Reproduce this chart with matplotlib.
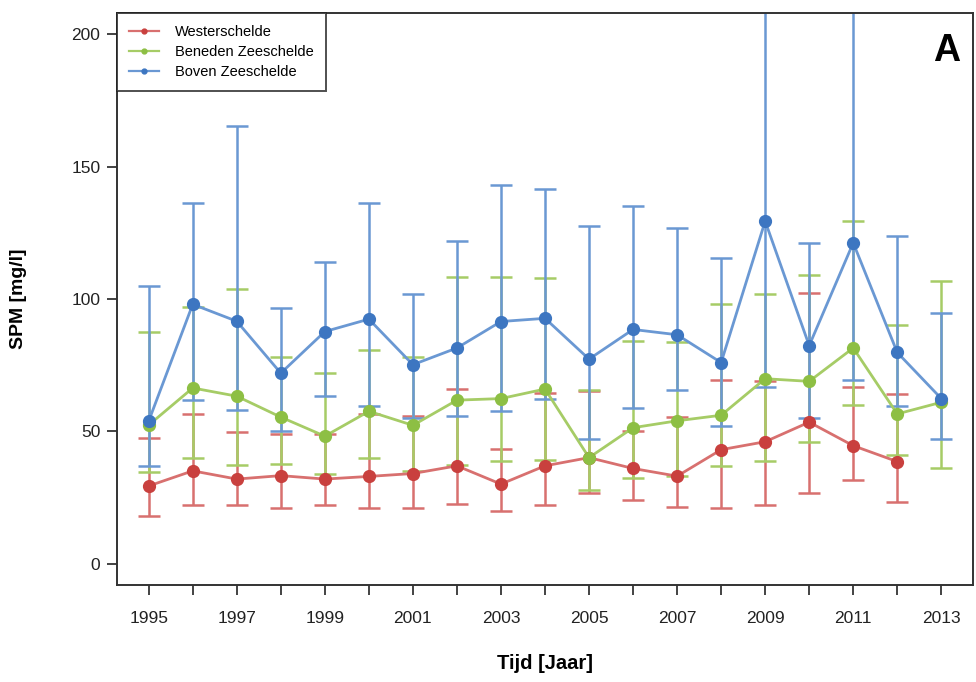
import matplotlib
matplotlib.use("Agg")
import matplotlib.pyplot as plt
import numpy as np

years = list(range(1995, 2014))

# Westerschelde (no value in 2013)
west_years = list(range(1995, 2013))
west_mean = [29.4, 35.1, 32.0, 33.3, 32.0, 33.0, 34.1, 37.0, 30.1, 37.0, 40.1, 36.0, 33.1, 43.1, 46.1, 53.5, 44.6, 38.6]
west_low  = [17.9, 22.2, 22.2, 21.1, 22.2, 21.1, 21.1, 22.6, 20.0, 22.2, 26.7, 24.2, 21.4, 21.1, 22.2, 26.7, 31.6, 23.2]
west_high = [47.5, 56.4, 49.9, 49.1, 48.9, 56.4, 56.0, 66.0, 43.2, 64.5, 65.3, 50.1, 55.5, 69.5, 68.9, 102.4, 66.7, 64.0]

# Beneden Zeeschelde
bz_mean = [52.4, 66.4, 63.3, 55.4, 48.2, 57.6, 52.3, 61.8, 62.4, 66.0, 40.1, 51.4, 54.0, 56.1, 69.9, 68.9, 81.5, 56.6, 61.0]
bz_low  = [34.5, 40.1, 37.2, 37.8, 33.8, 39.8, 35.1, 37.5, 38.8, 39.2, 27.9, 32.3, 33.0, 37.0, 39.0, 46.1, 59.9, 41.2, 36.0]
bz_high = [87.6, 97.1, 103.6, 78.0, 72.0, 80.8, 78.0, 108.4, 108.4, 107.8, 65.5, 84.0, 83.6, 98.0, 101.8, 108.9, 129.3, 90.2, 106.8]

# Boven Zeeschelde
bo_mean = [53.9, 98.0, 91.6, 72.0, 87.7, 92.4, 75.2, 81.5, 91.5, 92.7, 77.3, 88.5, 86.5, 76.0, 129.4, 82.4, 121.2, 79.8, 62.4]
bo_low  = [37.0, 61.8, 57.9, 50.1, 63.2, 59.5, 55.1, 55.8, 57.6, 62.3, 47.0, 58.9, 65.7, 52.0, 66.7, 55.0, 69.4, 59.5, 47.2]
bo_high = [105.0, 136.2, 165.5, 96.7, 114.0, 136.2, 101.8, 122.0, 142.9, 141.5, 127.7, 135.2, 127.0, 115.4, 260.0, 121.0, 250.0, 123.8, 94.6]

series = [
    ("Westerschelde", west_years, west_mean, west_low, west_high, "#c9403e", "#d8706f"),
    ("Beneden Zeeschelde", years, bz_mean, bz_low, bz_high, "#8dbf44", "#a6cc66"),
    ("Boven Zeeschelde", years, bo_mean, bo_low, bo_high, "#3d76c1", "#6a98d3"),
]

plt.rcParams['font.family'] = ['Liberation Sans', 'DejaVu Sans']

fig = plt.figure(figsize=(9.76, 6.82), dpi=100)
ax = fig.add_axes([117/976, 1 - 585/682, (973-117)/976, (585-13)/682])

handles = []
for name, xs, m, lo, hi, col, ecol in series:
    m = np.array(m); lo = np.array(lo); hi = np.array(hi)
    ax.errorbar(xs, m, yerr=[m - lo, hi - m], fmt='none', ecolor=ecol,
                elinewidth=1.8, capsize=8, capthick=1.8, zorder=2)
for name, xs, m, lo, hi, col, ecol in series:
    ax.plot(xs, m, '-', color=ecol, lw=2.0, zorder=3)
    ax.plot(xs, m, 'o', color=col, ms=8.5, mec=col, zorder=4)
    hl, = ax.plot([], [], '-', color=ecol, lw=1.6, marker='o', ms=3.5, mfc=col, mec=col)
    hl.set_label(name)
    handles.append(hl)

ax.set_xlim(1994.28, 2013.72)
ax.set_ylim(-8, 208)
ax.set_xticks(years)
ax.set_xticklabels([str(y) if (y - 1995) % 2 == 0 else "" for y in years], fontsize=12.5)
ax.set_yticks([0, 50, 100, 150, 200])
ax.set_yticklabels(["0", "50", "100", "150", "200"], fontsize=12.5)
ax.tick_params(axis='both', direction='out', length=7, width=1.2, colors='#222222')
ax.tick_params(axis='x', pad=12)
ax.tick_params(axis='y', pad=5)
for s in ax.spines.values():
    s.set_linewidth(1.4)
    s.set_color('#333333')

ax.set_ylabel("SPM [mg/l]", fontsize=14, fontweight='bold')
ax.yaxis.set_label_coords(-0.105, 0.5)
ax.set_xlabel("Tijd [Jaar]", fontsize=14.5, fontweight='bold')
ax.xaxis.set_label_coords(0.5, -0.12)

leg = ax.legend(handles=handles, loc='upper left', bbox_to_anchor=(0, 1),
                frameon=True, fancybox=False, handlelength=2.0,
                borderaxespad=0, borderpad=0.85, labelspacing=0.4, handletextpad=1.1,
                prop={'size': 10.5})
leg.get_frame().set_edgecolor('#222222')
leg.get_frame().set_linewidth(1.4)

ax.text(0.985, 0.965, "A", transform=ax.transAxes, ha='right', va='top',
        fontsize=27, fontweight='bold')

fig.savefig("out.png", dpi=100)
